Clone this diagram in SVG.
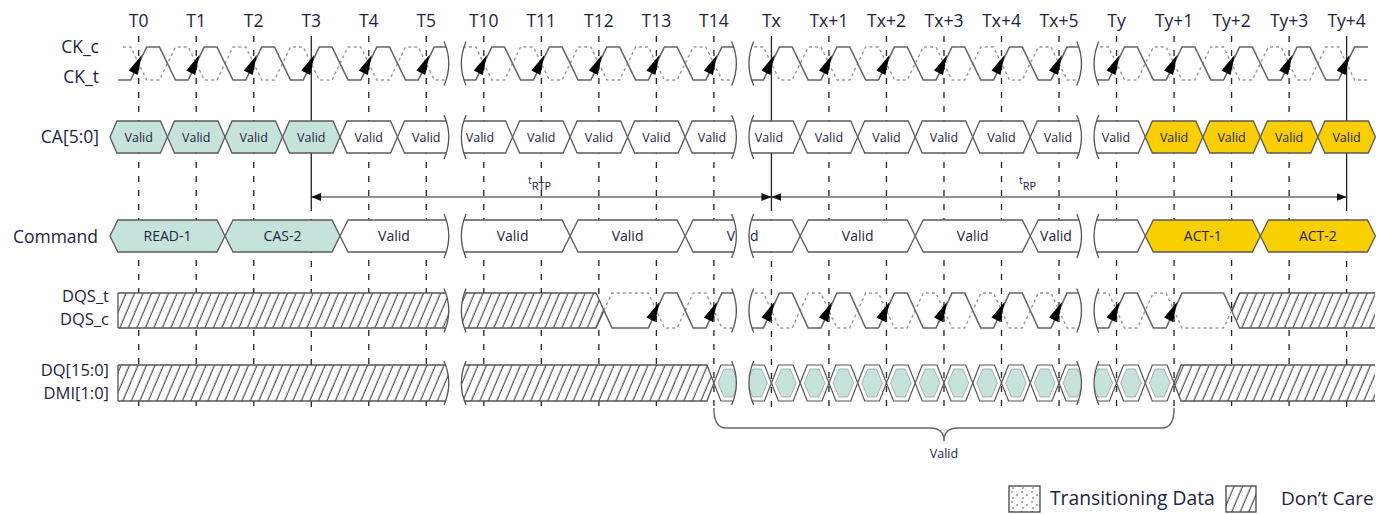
<svg xmlns="http://www.w3.org/2000/svg" xmlns:xlink="http://www.w3.org/1999/xlink" width="1394" height="514" viewBox="0 0 1394 514">
<style>
text{font-family:"Open Sans","Noto Sans",sans-serif;fill:#23233d}
.top{font-size:17.5px;text-anchor:middle}
.sig{font-size:17.5px;text-anchor:end}
.sig2{font-size:16.5px;text-anchor:end}
.ca{font-size:12.5px;text-anchor:middle}
.cmd{font-size:14px;text-anchor:middle}
.box{stroke:#5a5a5a;stroke-width:1.3}
.w{fill:#fff}.t{fill:#c5e3db}.y{fill:#f9cf00}
.grid{fill:none;stroke:#222;stroke-width:1.3;stroke-dasharray:6 8}
.sv{fill:none;stroke:#222;stroke-width:1.3}
.wave{fill:none;stroke:#666;stroke-width:1.6}
.wdot{fill:none;stroke:#999;stroke-width:1.4;stroke-dasharray:3 3}
.hl{fill:none;stroke:#555;stroke-width:1.3}
.arr{fill:none;stroke:#222;stroke-width:1.2}
</style>
<defs>
<pattern id="hatch" patternUnits="userSpaceOnUse" width="8.5" height="40" patternTransform="skewX(-23)"><rect width="8.5" height="40" fill="#fff"/><line x1="4" y1="0" x2="4" y2="40" stroke="#333" stroke-width="1.1"/></pattern>
<pattern id="dots" patternUnits="userSpaceOnUse" width="10" height="10"><rect width="10" height="10" fill="#fff"/><circle cx="2" cy="2" r="0.8" fill="#555"/><circle cx="7" cy="5" r="0.8" fill="#555"/><circle cx="3" cy="8" r="0.8" fill="#555"/></pattern>
<marker id="ah" viewBox="0 0 10 8" refX="10" refY="4" markerWidth="10" markerHeight="8" markerUnits="userSpaceOnUse" orient="auto-start-reverse"><path d="M0,0 L10,4 L0,8 Z" fill="#111"/></marker>
<path id="arw" d="M3,-8.5 L-1,11.5 L-10,7 Z" fill="#000"/>
<path id="cah" d="M0,16 L7,0 H50.52 L57.52,16 L50.52,32 H7 Z"/>
<path id="cmh" d="M0,16 L8,0 H107.04 L115.04,16 L107.04,32 H8 Z"/>
<path id="eyeo" d="M0,18 L7,0 H21.76 L28.76,18 L21.76,36 H7 Z" fill="#fff" stroke="#555" stroke-width="1.2"/>
<path id="eyei" d="M4,18 L10,4 H18.76 L24.76,18 L18.76,32 H10 Z" fill="#c5e3db" stroke="#888" stroke-width="0.6"/>
<g id="brk"><path d="M-11,-22 C-5,-8 -5,8 -11,22 L11,22 C5,8 5,-8 11,-22 Z" fill="#fff"/><path d="M-11,-22 C-5,-8 -5,8 -11,22 M11,-22 C5,-8 5,8 11,22" fill="none" stroke="#555" stroke-width="1.3"/></g>
</defs>
<rect width="1394" height="514" fill="#fff"/>

<g id="grid">
<path class="grid" d="M138.7,36V412 M196.22,36V412 M253.74,36V412 M311.26,205V412 M368.78,36V412 M426.3,36V412 M483.82,36V412 M541.34,36V412 M598.86,36V412 M656.38,36V412 M713.9,36V412 M771.42,205V412 M828.94,36V412 M886.46,36V412 M943.98,36V412 M1001.5,36V412 M1059.02,36V412 M1116.54,36V412 M1174.06,36V412 M1231.58,36V412 M1289.1,36V412 M1346.62,205V412"/>
<path class="sv" d="M311.26,36V205 M771.42,36V205 M1346.62,36V205"/>
</g>

<g id="top-labels">
<text class="top" x="138.7" y="27">T0</text><text class="top" x="196.2" y="27">T1</text><text class="top" x="253.7" y="27">T2</text><text class="top" x="311.3" y="27">T3</text><text class="top" x="368.8" y="27">T4</text><text class="top" x="426.3" y="27">T5</text><text class="top" x="483.8" y="27">T10</text><text class="top" x="541.3" y="27">T11</text><text class="top" x="598.9" y="27">T12</text><text class="top" x="656.4" y="27">T13</text><text class="top" x="713.9" y="27">T14</text><text class="top" x="771.4" y="27">Tx</text><text class="top" x="828.9" y="27">Tx+1</text><text class="top" x="886.5" y="27">Tx+2</text><text class="top" x="944" y="27">Tx+3</text><text class="top" x="1001.5" y="27">Tx+4</text><text class="top" x="1059" y="27">Tx+5</text><text class="top" x="1116.5" y="27">Ty</text><text class="top" x="1174.1" y="27">Ty+1</text><text class="top" x="1231.6" y="27">Ty+2</text><text class="top" x="1289.1" y="27">Ty+3</text><text class="top" x="1346.6" y="27">Ty+4</text>
</g>

<g id="signal-labels">
<text class="sig" x="99" y="53">CK_c</text>
<text class="sig" x="99" y="83">CK_t</text>
<text class="sig" x="99" y="143">CA[5:0]</text>
<text class="sig" x="98" y="243">Command</text>
<text class="sig2" x="109" y="302">DQS_t</text>
<text class="sig2" x="109" y="325">DQS_c</text>
<text class="sig2" x="109" y="376">DQ[15:0]</text>
<text class="sig2" x="109" y="399">DMI[1:0]</text>
</g>

<g id="ck">
<path class="wdot" d="M123,47 H130.7
l16,33 h12.76 l16,-33 h12.76 l16,33 h12.76 l16,-33 h12.76 l16,33 h12.76 l16,-33 h12.76 l16,33 h12.76 l16,-33 h12.76 l16,33 h12.76 l16,-33 h12.76 l16,33 h12.76 l16,-33 h12.76 l16,33 h12.76 l16,-33 h12.76
l16,33 h12.76 l16,-33 h12.76 l16,33 h12.76 l16,-33 h12.76 l16,33 h12.76 l16,-33 h12.76 l16,33 h12.76 l16,-33 h12.76 l16,33 h12.76 l16,-33 h12.76 l16,33 h12.76 l16,-33 h12.76 l16,33 h12.76 l16,-33 h12.76
l16,33 h12.76 l16,-33 h12.76 l16,33 h12.76 l16,-33 h12.76 l16,33 h12.76 l16,-33 h12.76 l16,33 h12.76 l16,-33 h12.76 l16,33 h12.76 l16,-33 h12.76 l16,33 h12.76 l16,-33 h12.76 l16,33 h12.76 l16,-33 h12.76
l16,33 H1368"/>
<path class="wave" d="M118,80 H130.7
l16,-33 h12.76 l16,33 h12.76 l16,-33 h12.76 l16,33 h12.76 l16,-33 h12.76 l16,33 h12.76 l16,-33 h12.76 l16,33 h12.76 l16,-33 h12.76 l16,33 h12.76 l16,-33 h12.76 l16,33 h12.76 l16,-33 h12.76 l16,33 h12.76
l16,-33 h12.76 l16,33 h12.76 l16,-33 h12.76 l16,33 h12.76 l16,-33 h12.76 l16,33 h12.76 l16,-33 h12.76 l16,33 h12.76 l16,-33 h12.76 l16,33 h12.76 l16,-33 h12.76 l16,33 h12.76 l16,-33 h12.76 l16,33 h12.76
l16,-33 h12.76 l16,33 h12.76 l16,-33 h12.76 l16,33 h12.76 l16,-33 h12.76 l16,33 h12.76 l16,-33 h12.76 l16,33 h12.76 l16,-33 h12.76 l16,33 h12.76 l16,-33 h12.76 l16,33 h12.76 l16,-33 h12.76 l16,33 h12.76
l16,-33 H1368"/>
<use href="#arw" x="138.7" y="63.5"/><use href="#arw" x="196.22" y="63.5"/><use href="#arw" x="253.74" y="63.5"/><use href="#arw" x="311.26" y="63.5"/><use href="#arw" x="368.78" y="63.5"/><use href="#arw" x="426.3" y="63.5"/><use href="#arw" x="483.82" y="63.5"/><use href="#arw" x="541.34" y="63.5"/><use href="#arw" x="598.86" y="63.5"/><use href="#arw" x="656.38" y="63.5"/><use href="#arw" x="713.9" y="63.5"/><use href="#arw" x="771.42" y="63.5"/><use href="#arw" x="828.94" y="63.5"/><use href="#arw" x="886.46" y="63.5"/><use href="#arw" x="943.98" y="63.5"/><use href="#arw" x="1001.5" y="63.5"/><use href="#arw" x="1059.02" y="63.5"/><use href="#arw" x="1116.54" y="63.5"/><use href="#arw" x="1174.06" y="63.5"/><use href="#arw" x="1231.58" y="63.5"/><use href="#arw" x="1289.1" y="63.5"/><use href="#arw" x="1346.62" y="63.5"/>
<use href="#brk" x="455.06" y="63.5"/><use href="#brk" x="742.66" y="63.5"/><use href="#brk" x="1087.78" y="63.5"/>
</g>

<g id="ca">
<use href="#cah" class="box t" x="109.94" y="121"/><use href="#cah" class="box t" x="167.46" y="121"/><use href="#cah" class="box t" x="224.98" y="121"/><use href="#cah" class="box t" x="282.5" y="121"/><use href="#cah" class="box w" x="340.02" y="121"/><use href="#cah" class="box w" x="397.54" y="121"/><use href="#cah" class="box w" x="455.06" y="121"/><use href="#cah" class="box w" x="512.58" y="121"/><use href="#cah" class="box w" x="570.1" y="121"/><use href="#cah" class="box w" x="627.62" y="121"/><use href="#cah" class="box w" x="685.14" y="121"/><use href="#cah" class="box w" x="742.66" y="121"/><use href="#cah" class="box w" x="800.18" y="121"/><use href="#cah" class="box w" x="857.7" y="121"/><use href="#cah" class="box w" x="915.22" y="121"/><use href="#cah" class="box w" x="972.74" y="121"/><use href="#cah" class="box w" x="1030.26" y="121"/><use href="#cah" class="box w" x="1087.78" y="121"/><use href="#cah" class="box y" x="1145.3" y="121"/><use href="#cah" class="box y" x="1202.82" y="121"/><use href="#cah" class="box y" x="1260.34" y="121"/><use href="#cah" class="box y" x="1317.86" y="121"/>
<use href="#brk" x="455.06" y="137"/><use href="#brk" x="742.66" y="137"/><use href="#brk" x="1087.78" y="137"/>
<text class="ca" x="138.7" y="141.5">Valid</text><text class="ca" x="196.2" y="141.5">Valid</text><text class="ca" x="253.7" y="141.5">Valid</text><text class="ca" x="311.3" y="141.5">Valid</text><text class="ca" x="368.8" y="141.5">Valid</text><text class="ca" x="426.3" y="141.5">Valid</text><text class="ca" x="480" y="141.5">Valid</text><text class="ca" x="541.3" y="141.5">Valid</text><text class="ca" x="598.9" y="141.5">Valid</text><text class="ca" x="656.4" y="141.5">Valid</text><text class="ca" x="712" y="141.5">Valid</text><text class="ca" x="769" y="141.5">Valid</text><text class="ca" x="828.9" y="141.5">Valid</text><text class="ca" x="886.5" y="141.5">Valid</text><text class="ca" x="944" y="141.5">Valid</text><text class="ca" x="1001.5" y="141.5">Valid</text><text class="ca" x="1058" y="141.5">Valid</text><text class="ca" x="1116" y="141.5">Valid</text><text class="ca" x="1174.1" y="141.5">Valid</text><text class="ca" x="1231.6" y="141.5">Valid</text><text class="ca" x="1289.1" y="141.5">Valid</text><text class="ca" x="1346.6" y="141.5">Valid</text>
</g>

<g id="timing">
<path class="arr" d="M311.26,197 H771.42" marker-start="url(#ah)" marker-end="url(#ah)"/>
<path class="arr" d="M771.42,197 H1346.62" marker-start="url(#ah)" marker-end="url(#ah)"/>
<text x="528" y="184" style="font-size:10.5px">t<tspan dy="6" style="font-size:11px">RTP</tspan></text>
<text x="1019" y="184" style="font-size:10.5px">t<tspan dy="6" style="font-size:11px">RP</tspan></text>
</g>

<g id="cmd">
<use href="#cmh" class="box t" x="109.94" y="220"/><use href="#cmh" class="box t" x="224.98" y="220"/><use href="#cmh" class="box w" x="340.02" y="220"/><use href="#cmh" class="box w" x="455.06" y="220"/><use href="#cmh" class="box w" x="570.1" y="220"/><use href="#cmh" class="box w" x="685.14" y="220"/><use href="#cmh" class="box w" x="800.18" y="220"/><use href="#cmh" class="box w" x="915.22" y="220"/><use href="#cmh" class="box w" x="1030.26" y="220"/><use href="#cmh" class="box y" x="1145.3" y="220"/><use href="#cmh" class="box y" x="1260.34" y="220"/>
<text class="cmd" x="167.5" y="241">READ-1</text><text class="cmd" x="282.5" y="241">CAS-2</text><text class="cmd" x="394" y="241">Valid</text><text class="cmd" x="512.6" y="241">Valid</text><text class="cmd" x="627.6" y="241">Valid</text><text class="cmd" x="742.7" y="241">Valid</text><text class="cmd" x="857.7" y="241">Valid</text><text class="cmd" x="972.7" y="241">Valid</text><text class="cmd" x="1056" y="241">Valid</text><text class="cmd" x="1202.8" y="241">ACT-1</text><text class="cmd" x="1317.9" y="241">ACT-2</text>
<use href="#brk" x="455.06" y="236"/><use href="#brk" x="742.66" y="236"/><use href="#brk" x="1087.78" y="236"/>
</g>

<g id="dqs">
<path d="M118,293 H596 L604,310.5 L596,328 H118 Z" fill="url(#hatch)"/>
<path class="hl" d="M118,293 V328 M118,293 H596 L604,310.5 L596,328 H118"/>
<path d="M1231.58,310.5 L1239.58,293 H1375 V328 H1239.58 Z" fill="url(#hatch)"/>
<path class="hl" d="M1375,293 H1239.58 L1231.58,310.5 L1239.58,328 H1375"/>
<path class="wdot" d="M604,310.5 L612,293 H648.38
l16,35 h12.76 l16,-35 h12.76 l16,35 h12.76 l16,-35 h12.76 l16,35 h12.76 l16,-35 h12.76
l16,35 h12.76 l16,-35 h12.76 l16,35 h12.76 l16,-35 h12.76 l16,35 h12.76 l16,-35 h12.76
l16,35 h12.76 l16,-35 h12.76 l16,35 h12.76 l16,-35 h12.76 l16,35 h12.76 l16,-35 h12.76
l16,35 H1223.58 L1231.58,310.5"/>
<path class="wave" d="M604,310.5 L612,328 H648.38
l16,-35 h12.76 l16,35 h12.76 l16,-35 h12.76 l16,35 h12.76 l16,-35 h12.76 l16,35 h12.76
l16,-35 h12.76 l16,35 h12.76 l16,-35 h12.76 l16,35 h12.76 l16,-35 h12.76 l16,35 h12.76
l16,-35 h12.76 l16,35 h12.76 l16,-35 h12.76 l16,35 h12.76 l16,-35 h12.76 l16,35 h12.76
l16,-35 H1223.58 L1231.58,310.5"/>
<use href="#arw" x="656.38" y="310.5"/><use href="#arw" x="713.9" y="310.5"/><use href="#arw" x="771.42" y="310.5"/><use href="#arw" x="828.94" y="310.5"/><use href="#arw" x="886.46" y="310.5"/><use href="#arw" x="943.98" y="310.5"/><use href="#arw" x="1001.5" y="310.5"/><use href="#arw" x="1059.02" y="310.5"/><use href="#arw" x="1116.54" y="310.5"/><use href="#arw" x="1174.06" y="310.5"/>
<use href="#brk" x="455.06" y="310.5"/><use href="#brk" x="742.66" y="310.5"/><use href="#brk" x="1087.78" y="310.5"/>
</g>

<g id="dq">
<path d="M118,365 H706.9 L713.9,383 L706.9,401 H118 Z" fill="url(#hatch)"/>
<path class="hl" d="M118,365 V401 M118,365 H706.9 L713.9,383 L706.9,401 H118"/>
<path d="M1174.06,383 L1181.06,365 H1375 V401 H1181.06 Z" fill="url(#hatch)"/>
<path class="hl" d="M1375,365 H1181.06 L1174.06,383 L1181.06,401 H1375"/>
<use href="#eyeo" x="713.9" y="365"/><use href="#eyeo" x="742.66" y="365"/><use href="#eyeo" x="771.42" y="365"/><use href="#eyeo" x="800.18" y="365"/><use href="#eyeo" x="828.94" y="365"/><use href="#eyeo" x="857.7" y="365"/><use href="#eyeo" x="886.46" y="365"/><use href="#eyeo" x="915.22" y="365"/><use href="#eyeo" x="943.98" y="365"/><use href="#eyeo" x="972.74" y="365"/><use href="#eyeo" x="1001.5" y="365"/><use href="#eyeo" x="1030.26" y="365"/><use href="#eyeo" x="1059.02" y="365"/><use href="#eyeo" x="1087.78" y="365"/><use href="#eyeo" x="1116.54" y="365"/><use href="#eyeo" x="1145.3" y="365"/>
<use href="#eyei" x="713.9" y="365"/><use href="#eyei" x="742.66" y="365"/><use href="#eyei" x="771.42" y="365"/><use href="#eyei" x="800.18" y="365"/><use href="#eyei" x="828.94" y="365"/><use href="#eyei" x="857.7" y="365"/><use href="#eyei" x="886.46" y="365"/><use href="#eyei" x="915.22" y="365"/><use href="#eyei" x="943.98" y="365"/><use href="#eyei" x="972.74" y="365"/><use href="#eyei" x="1001.5" y="365"/><use href="#eyei" x="1030.26" y="365"/><use href="#eyei" x="1059.02" y="365"/><use href="#eyei" x="1087.78" y="365"/><use href="#eyei" x="1116.54" y="365"/><use href="#eyei" x="1145.3" y="365"/>
<use href="#brk" x="455.06" y="383"/><use href="#brk" x="742.66" y="383"/><use href="#brk" x="1087.78" y="383"/>
</g>

<g id="brace">
<path d="M713.9,408 Q713.9,428 726,428 H930 Q944,428 944,441 Q944,428 958,428 H1162 Q1174.06,428 1174.06,408" fill="none" stroke="#666" stroke-width="1.4"/>
<text class="ca" x="944" y="458">Valid</text>
</g>

<g id="legend">
<rect x="1009" y="486" width="31" height="26" fill="url(#dots)" stroke="#333" stroke-width="1.2"/>
<text x="1050" y="505" style="font-size:19.3px">Transitioning Data</text>
<rect x="1226" y="486" width="30" height="26" fill="url(#hatch)" stroke="#333" stroke-width="1.2"/>
<text x="1281" y="505" style="font-size:19px">Don’t Care</text>
</g>
</svg>
